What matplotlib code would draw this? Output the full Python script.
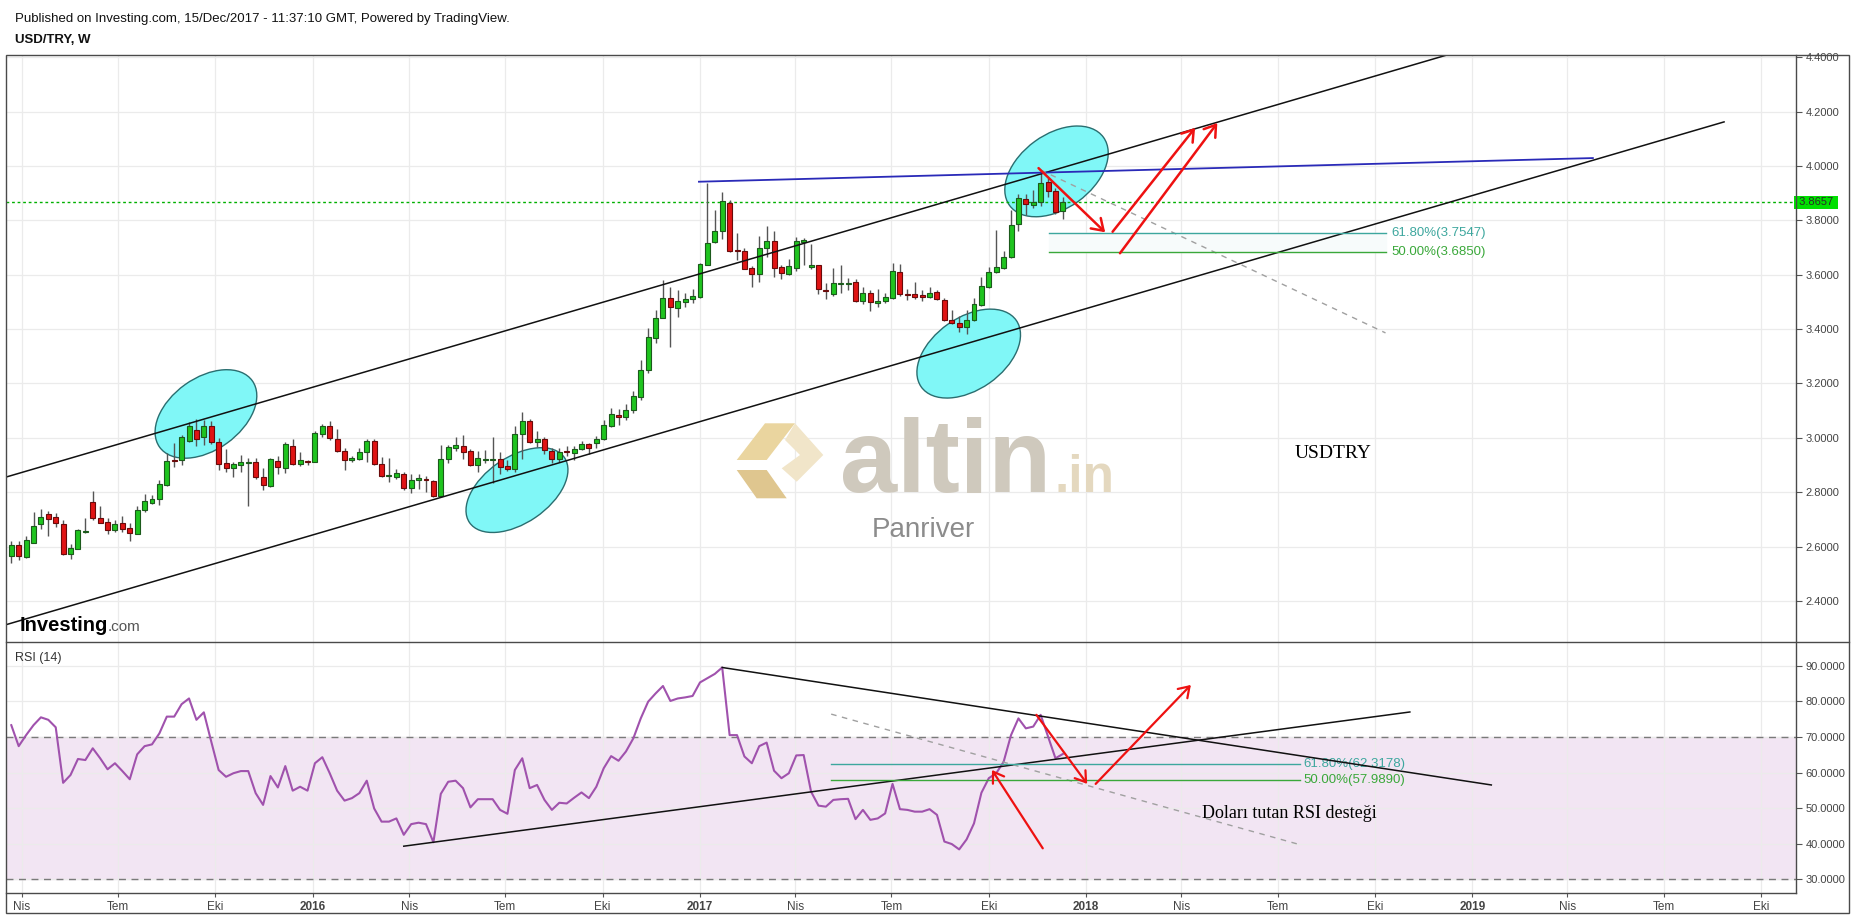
import numpy as np
import pandas as pd
import matplotlib
matplotlib.use('Agg')
import matplotlib.pyplot as plt
import matplotlib.dates as mdates
from matplotlib.ticker import FormatStrFormatter
from matplotlib.patches import Ellipse, Polygon, Rectangle
from matplotlib.lines import Line2D
from matplotlib.transforms import ScaledTranslation

plt.rcParams['font.family'] = ['Liberation Sans', 'DejaVu Sans']

W, H = 1853, 918

# --- weekly USD/TRY candles (first week starts 2015-03-22) ---
first_week = '2015-03-22'
opens = [2.567, 2.606, 2.563, 2.615, 2.682, 2.719, 2.709, 2.683, 2.572, 2.593,
         2.655, 2.764, 2.705, 2.691, 2.660, 2.686, 2.669, 2.647, 2.734, 2.762,
         2.774, 2.828, 2.919, 2.918, 2.990, 3.028, 3.002, 3.043, 2.986, 2.908,
         2.888, 2.899, 2.910, 2.912, 2.858, 2.823, 2.914, 2.890, 2.969, 2.903,
         2.916, 2.913, 3.014, 3.043, 2.995, 2.951, 2.917, 2.924, 2.947, 2.990,
         2.903, 2.861, 2.855, 2.868, 2.817, 2.845, 2.849, 2.840, 2.786, 2.921,
         2.963, 2.971, 2.951, 2.900, 2.921, 2.922, 2.921, 2.895, 2.884, 3.013,
         3.061, 2.986, 2.996, 2.953, 2.924, 2.952, 2.946, 2.960, 2.978, 2.983,
         2.995, 3.044, 3.083, 3.076, 3.101, 3.150, 3.248, 3.368, 3.442, 3.515,
         3.478, 3.500, 3.511, 3.518, 3.637, 3.719, 3.760, 3.865, 3.691, 3.687,
         3.625, 3.602, 3.697, 3.724, 3.627, 3.602, 3.626, 3.724, 3.627, 3.634,
         3.544, 3.528, 3.565, 3.569, 3.572, 3.502, 3.532, 3.497, 3.503, 3.516,
         3.610, 3.531, 3.528, 3.524, 3.519, 3.535, 3.508, 3.433, 3.421, 3.406,
         3.434, 3.490, 3.556, 3.610, 3.624, 3.665, 3.785, 3.877, 3.858, 3.869,
         3.942, 3.909, 3.833]
highs = [2.621, 2.621, 2.639, 2.726, 2.737, 2.732, 2.723, 2.698, 2.610, 2.664,
         2.704, 2.805, 2.751, 2.705, 2.698, 2.713, 2.686, 2.750, 2.794, 2.790,
         2.844, 2.946, 2.983, 3.011, 3.059, 3.068, 3.066, 3.062, 3.000, 2.958,
         2.913, 2.937, 2.925, 2.925, 2.888, 2.927, 2.932, 2.985, 2.996, 2.947,
         2.919, 3.025, 3.051, 3.062, 3.033, 2.964, 2.935, 2.963, 2.997, 2.996,
         2.929, 2.925, 2.885, 2.874, 2.867, 2.866, 2.861, 2.845, 2.974, 2.974,
         3.002, 3.011, 2.959, 2.953, 2.956, 3.003, 2.949, 2.919, 3.044, 3.095,
         3.071, 3.025, 3.003, 2.962, 2.964, 2.970, 2.970, 2.990, 2.983, 3.007,
         3.066, 3.109, 3.105, 3.125, 3.171, 3.287, 3.403, 3.470, 3.581, 3.556,
         3.544, 3.534, 3.548, 3.643, 3.936, 3.838, 3.904, 3.875, 3.755, 3.697,
         3.632, 3.743, 3.779, 3.759, 3.636, 3.657, 3.740, 3.734, 3.713, 3.636,
         3.571, 3.624, 3.636, 3.589, 3.586, 3.554, 3.544, 3.546, 3.534, 3.642,
         3.640, 3.546, 3.573, 3.544, 3.554, 3.544, 3.516, 3.470, 3.448, 3.470,
         3.513, 3.591, 3.630, 3.765, 3.687, 3.838, 3.897, 3.896, 3.912, 3.985,
         3.955, 3.918, 3.887]
lows = [2.539, 2.551, 2.557, 2.612, 2.666, 2.640, 2.671, 2.570, 2.555, 2.590,
        2.649, 2.697, 2.686, 2.647, 2.655, 2.655, 2.622, 2.645, 2.729, 2.757,
        2.755, 2.823, 2.892, 2.902, 2.984, 2.971, 2.974, 2.979, 2.882, 2.873,
        2.855, 2.875, 2.751, 2.849, 2.810, 2.821, 2.866, 2.871, 2.899, 2.898,
        2.899, 2.910, 3.002, 2.992, 2.949, 2.882, 2.910, 2.918, 2.911, 2.900,
        2.858, 2.837, 2.850, 2.808, 2.799, 2.812, 2.802, 2.784, 2.784, 2.907,
        2.953, 2.921, 2.897, 2.875, 2.907, 2.833, 2.866, 2.878, 2.873, 2.921,
        2.980, 2.968, 2.941, 2.908, 2.910, 2.934, 2.920, 2.957, 2.941, 2.961,
        2.991, 3.040, 3.046, 3.065, 3.092, 3.139, 3.240, 3.348, 3.440, 3.336,
        3.446, 3.483, 3.497, 3.513, 3.634, 3.716, 3.733, 3.684, 3.654, 3.620,
        3.554, 3.575, 3.664, 3.593, 3.583, 3.598, 3.615, 3.636, 3.622, 3.529,
        3.511, 3.523, 3.532, 3.544, 3.499, 3.493, 3.468, 3.480, 3.497, 3.510,
        3.523, 3.507, 3.510, 3.505, 3.516, 3.507, 3.430, 3.419, 3.391, 3.381,
        3.431, 3.485, 3.553, 3.608, 3.620, 3.662, 3.761, 3.820, 3.844, 3.853,
        3.887, 3.822, 3.806]
closes = [2.606, 2.567, 2.623, 2.676, 2.709, 2.703, 2.688, 2.572, 2.594, 2.660,
          2.657, 2.707, 2.688, 2.660, 2.683, 2.664, 2.649, 2.734, 2.767, 2.774,
          2.829, 2.914, 2.917, 3.002, 3.043, 2.997, 3.043, 2.984, 2.905, 2.888,
          2.903, 2.910, 2.912, 2.857, 2.826, 2.921, 2.892, 2.976, 2.903, 2.919,
          2.913, 3.017, 3.043, 2.998, 2.951, 2.919, 2.925, 2.947, 2.989, 2.903,
          2.861, 2.863, 2.870, 2.817, 2.845, 2.851, 2.844, 2.786, 2.921, 2.965,
          2.973, 2.949, 2.899, 2.925, 2.923, 2.924, 2.894, 2.887, 3.014, 3.062,
          2.984, 2.995, 2.954, 2.924, 2.948, 2.947, 2.958, 2.978, 2.961, 2.995,
          3.046, 3.087, 3.076, 3.103, 3.153, 3.250, 3.370, 3.440, 3.515, 3.480,
          3.504, 3.511, 3.522, 3.638, 3.717, 3.761, 3.870, 3.689, 3.687, 3.622,
          3.602, 3.697, 3.724, 3.626, 3.605, 3.631, 3.724, 3.726, 3.635, 3.546,
          3.540, 3.569, 3.569, 3.572, 3.502, 3.532, 3.499, 3.504, 3.517, 3.613,
          3.530, 3.528, 3.519, 3.519, 3.532, 3.511, 3.432, 3.421, 3.407, 3.434,
          3.492, 3.557, 3.610, 3.627, 3.665, 3.783, 3.881, 3.860, 3.869, 3.936,
          3.907, 3.832, 3.866]
rsi = [73.3, 67.4, 70.5, 73.3, 75.5, 74.8, 72.7, 57.1, 59.3, 63.8,
       63.5, 66.8, 64.0, 60.9, 62.6, 60.4, 58.1, 65.1, 67.4, 67.9,
       71.0, 75.7, 75.7, 79.2, 80.8, 74.8, 76.9, 68.7, 60.7, 58.8,
       59.8, 60.4, 60.4, 54.2, 50.9, 59.0, 55.8, 61.8, 54.9, 56.0,
       54.9, 62.6, 64.3, 59.8, 54.9, 52.1, 52.8, 54.2, 57.7, 49.9,
       46.2, 46.2, 47.1, 42.5, 45.5, 45.9, 45.5, 40.4, 54.0, 57.4,
       57.7, 55.6, 50.2, 52.5, 52.5, 52.5, 49.5, 48.4, 60.7, 64.0,
       55.6, 56.5, 52.3, 49.5, 51.5, 51.3, 52.9, 54.4, 52.8, 56.0,
       61.2, 64.6, 63.3, 65.9, 69.6, 75.2, 79.9, 82.2, 84.3, 80.1,
       80.8, 81.1, 81.5, 85.3, 86.5, 87.7, 89.5, 70.5, 70.5, 64.5,
       62.6, 67.4, 68.4, 60.5, 58.4, 59.8, 64.8, 64.9, 54.6, 50.7,
       50.4, 52.3, 52.5, 52.6, 46.9, 49.5, 46.7, 47.1, 48.5, 56.8,
       49.7, 49.5, 49.0, 49.0, 49.7, 48.1, 40.6, 39.9, 38.4, 41.2,
       45.7, 54.3, 58.4, 59.8, 63.0, 70.5, 75.2, 72.4, 72.9, 76.2,
       70.1, 64.0, 65.2]
last_price = 3.8657

price_ticks = [2.4, 2.6, 2.8, 3.0, 3.2, 3.4, 3.6, 3.8, 4.0, 4.2, 4.4]
rsi_ticks = [30, 40, 50, 60, 70, 80, 90]
tick_dates = ['2015-04-01', '2015-07-01', '2015-10-01', '2016-01-01',
              '2016-04-01', '2016-07-01', '2016-10-01', '2017-01-01',
              '2017-04-01', '2017-07-01', '2017-10-01', '2018-01-01',
              '2018-04-01', '2018-07-01', '2018-10-01', '2019-01-01',
              '2019-04-01', '2019-07-01', '2019-10-01']
tick_labels = ['Nis', 'Tem', 'Eki', '2016', 'Nis', 'Tem', 'Eki', '2017',
               'Nis', 'Tem', 'Eki', '2018', 'Nis', 'Tem', 'Eki', '2019',
               'Nis', 'Tem', 'Eki']

# drawings (date, value)
upper_channel = [('2015-03-18', 2.857), ('2018-12-08', 4.408)]
lower_channel = [('2015-03-17', 2.313), ('2019-08-27', 4.162)]
blue_line = [('2016-12-31', 3.942), ('2019-04-25', 4.029)]
main_dash = [('2017-11-19', 3.985), ('2018-10-11', 3.386)]
main_fib = [('2017-11-27', '2018-10-11'), (3.7547, 3.6850)]
main_arrows = [(('2017-11-17', 3.992), ('2018-01-19', 3.756)),
               (('2018-01-26', 3.758), ('2018-04-14', 4.140)),
               (('2018-02-02', 3.679), ('2018-05-05', 4.158))]
ellipses = [('2015-09-22', 3.088, 114, 72, 35.6),
            ('2016-07-12', 2.808, 115, 66, 34.4),
            ('2017-12-04', 3.980, 116, 74, 36.0),
            ('2017-09-12', 3.310, 116, 72, 35.0)]
rsi_down_line = [('2017-01-22', 89.5), ('2019-01-19', 56.5)]
rsi_up_line = [('2016-03-27', 39.3), ('2018-11-03', 77.0)]
rsi_dash = [('2017-05-05', 76.4), ('2018-07-20', 39.9)]
rsi_fib = [('2017-05-05', '2018-07-22'), (62.3178, 57.9890)]
rsi_arrows = [(('2017-11-21', 38.7), ('2017-10-04', 60.7)),
              (('2017-11-15', 76.2), ('2018-01-02', 56.8)),
              (('2018-01-10', 56.8), ('2018-04-10', 84.6))]


def d(s):
    return mdates.date2num(pd.Timestamp(s))


def fp(x, y):
    return (x / W, 1 - y / H)


fig = plt.figure(figsize=(W / 100, H / 100), dpi=100)
fig.patch.set_facecolor('white')

l0, r0 = 6, 1796
ax = fig.add_axes([l0 / W, 1 - 642 / H, (r0 - l0) / W, (642 - 55) / H])
ax2 = fig.add_axes([l0 / W, 1 - 893 / H, (r0 - l0) / W, (893 - 642) / H], sharex=ax)

weeks = pd.date_range(first_week, periods=len(closes), freq='7D')
xs = mdates.date2num(weeks)
xmin, xmax = d('2015-03-17'), d('2019-11-03')

grid_c = '#ebebeb'
txt_c = '#444444'
for a in (ax, ax2):
    for s in a.spines.values():
        s.set_visible(False)
    a.set_xticks([d(t) for t in tick_dates])
    a.grid(True, color=grid_c, lw=0.9, zorder=0)
    a.set_axisbelow(True)
    a.yaxis.tick_right()
    a.yaxis.set_major_formatter(FormatStrFormatter('%.4f'))
    a.tick_params(axis='y', direction='out', length=4, width=0.8, color='#555555',
                  labelsize=8, labelcolor=txt_c, pad=3)

# ---------------- main panel ----------------
ax.set_xlim(xmin, xmax)
ax.set_ylim(2.2494, 4.408)
ax.set_yticks(price_ticks)
ax.tick_params(axis='x', length=0, labelbottom=False)

up_c, up_e = '#1fc41f', '#1b5a1b'
dn_c, dn_e = '#e01414', '#6a0a0a'
o = np.array(opens); c = np.array(closes)
hi = np.array(highs); lo = np.array(lows)
is_up = c >= o
ax.vlines(xs, lo, hi, color='#555555', lw=1, zorder=3)
body_low = np.minimum(o, c)
body_h = np.maximum(np.abs(c - o), 0.004)
ax.bar(xs, body_h, bottom=body_low - np.where(np.abs(c - o) < 0.004, 0.002, 0), width=4.7,
       color=np.where(is_up, up_c, dn_c), edgecolor=np.where(is_up, up_e, dn_e),
       linewidth=0.8, zorder=3.5)

for (cx, cy, ew, eh, ang) in ellipses:
    tr = ScaledTranslation(d(cx), cy, ax.transData)
    e = Ellipse((0, 0), ew, eh, angle=ang, transform=tr, facecolor='#80f7f7',
                edgecolor='#2a6e70', lw=1, zorder=1.5)
    ax.add_patch(e)

for line in (upper_channel, lower_channel):
    ax.plot([d(p[0]) for p in line], [p[1] for p in line], color='#111111', lw=1.1, zorder=4)
ax.plot([d(p[0]) for p in blue_line], [p[1] for p in blue_line], color='#2a2ab8', lw=1.3, zorder=4)
ax.plot([d(p[0]) for p in main_dash], [p[1] for p in main_dash], color='#a0a0a0', lw=1,
        ls=(0, (4, 4)), zorder=4)

ax.axhline(last_price, color='#00b000', lw=1, ls=(0, (2, 2)), zorder=2)
ax.text(1.0, last_price, ' 3.8657 ', transform=ax.get_yaxis_transform(), fontsize=8,
        color='#2a2a2a', va='center', ha='left', clip_on=False, zorder=6,
        bbox=dict(facecolor='#00e000', edgecolor='none', pad=1.2))

fx0, fx1 = d(main_fib[0][0]), d(main_fib[0][1])
f1, f2 = main_fib[1]
ax.fill_between([fx0, fx1], f2, f1, color='#f7fbfb', zorder=1)
ax.plot([fx0, fx1], [f1, f1], color='#3da79e', lw=1, zorder=4)
ax.plot([fx0, fx1], [f2, f2], color='#3aa83a', lw=1, zorder=4)
ax.text(fx1 + 6, f1, '61.80%(3.7547)', color='#3da79e', fontsize=9.5, va='center')
ax.text(fx1 + 6, f2, '50.00%(3.6850)', color='#3aa83a', fontsize=9.5, va='center')

for (s, e) in main_arrows:
    ax.annotate('', xy=(d(e[0]), e[1]), xytext=(d(s[0]), s[1]),
                arrowprops=dict(arrowstyle='->,head_length=0.6,head_width=0.4', color='#ee1111',
                                lw=1.8, mutation_scale=13, shrinkA=0, shrinkB=0), zorder=5)

ax.text(*fp(1295, 454), 'USDTRY', transform=fig.transFigure, fontsize=14,
        family=['Liberation Serif', 'DejaVu Serif'], va='center', ha='left', zorder=6)

# watermark
ax.text(*fp(840, 492), 'altin', transform=fig.transFigure, fontsize=74, fontweight='bold',
        color='#cfc9bd', va='baseline', ha='left', zorder=0.6)
ax.text(*fp(1055, 492), '.in', transform=fig.transFigure, fontsize=37, fontweight='bold',
        color='#e4d8bf', va='baseline', ha='left', zorder=0.6)
ax.text(*fp(872, 537), 'Panriver', transform=fig.transFigure, fontsize=20,
        color='#8c8c8c', va='baseline', ha='left', zorder=0.6)
logo = [([(736.7, 460), (765, 423.3), (795, 423.3), (766.7, 460)], '#ead59f'),
        ([(736.7, 470), (766.7, 470), (786.7, 498.3), (756.7, 498.3)], '#dfc68f'),
        ([(795, 423.3), (823.3, 455), (796.7, 481.7), (781.7, 468.3), (800, 455), (785, 440)], '#f1e5c9')]
for pts, col in logo:
    ax.add_patch(Polygon([fp(x, y) for x, y in pts], closed=True, transform=fig.transFigure,
                         facecolor=col, edgecolor='none', zorder=0.6))

ax.text(*fp(20, 631), 'Investing', transform=fig.transFigure, fontsize=14.5,
        fontweight='bold', color='black', va='baseline', ha='left', zorder=6)
ax.text(*fp(108, 631), '.com', transform=fig.transFigure, fontsize=11,
        color='#555555', va='baseline', ha='left', zorder=6)

# ---------------- RSI panel ----------------
ax2.set_ylim(26.15, 96.66)
ax2.set_yticks(rsi_ticks)
ax2.axhspan(30, 70, color='#f2e5f3', zorder=0.5)
for lvl in (30, 70):
    ax2.axhline(lvl, color='#7a7a7a', lw=1, ls=(0, (5, 4)), zorder=1)
ax2.plot(xs, rsi, color='#a052ad', lw=1.5, zorder=3)

ax2.plot([d(p[0]) for p in rsi_down_line], [p[1] for p in rsi_down_line], color='#111111', lw=1.1, zorder=4)
ax2.plot([d(p[0]) for p in rsi_up_line], [p[1] for p in rsi_up_line], color='#111111', lw=1.1, zorder=4)
ax2.plot([d(p[0]) for p in rsi_dash], [p[1] for p in rsi_dash], color='#a0a0a0', lw=1,
         ls=(0, (4, 4)), zorder=4)

gx0, gx1 = d(rsi_fib[0][0]), d(rsi_fib[0][1])
g1, g2 = rsi_fib[1]
ax2.plot([gx0, gx1], [g1, g1], color='#3da79e', lw=1, zorder=4)
ax2.plot([gx0, gx1], [g2, g2], color='#3aa83a', lw=1, zorder=4)
ax2.text(gx1 + 3, g1, '61.80%(62.3178)', color='#3da79e', fontsize=9.5, va='center')
ax2.text(gx1 + 3, g2, '50.00%(57.9890)', color='#3aa83a', fontsize=9.5, va='center')

for (s, e) in rsi_arrows:
    ax2.annotate('', xy=(d(e[0]), e[1]), xytext=(d(s[0]), s[1]),
                 arrowprops=dict(arrowstyle='->,head_length=0.6,head_width=0.4', color='#ee1111',
                                 lw=1.6, mutation_scale=12, shrinkA=0, shrinkB=0), zorder=5)

ax2.text(*fp(1202, 813), 'Doları tutan RSI desteği', transform=fig.transFigure, fontsize=13,
         family=['Liberation Serif', 'DejaVu Serif'], va='center', ha='left', zorder=6)
ax2.text(*fp(15, 658), 'RSI (14)', transform=fig.transFigure, fontsize=9,
         color='#333333', va='center', ha='left', zorder=6)

ax2.set_xticklabels(tick_labels)
ax2.tick_params(axis='x', direction='out', length=3, color='#555555', labelsize=8.5,
                labelcolor=txt_c, pad=3)
for t in ax2.get_xticklabels():
    t.set_family(['Liberation Sans Narrow', 'Liberation Sans', 'DejaVu Sans'])
    if t.get_text().isdigit():
        t.set_fontweight('bold')

# ---------------- frame and header ----------------
frame_c = '#4a4a4a'
fig.add_artist(Rectangle(fp(6, 913), (1849 - 6) / W, (913 - 55) / H, transform=fig.transFigure,
                         fill=False, edgecolor=frame_c, lw=1))
for (x1, y1, x2, y2) in [(1796, 55, 1796, 893), (6, 642, 1849, 642), (6, 893, 1796, 893)]:
    p1, p2 = fp(x1, y1), fp(x2, y2)
    fig.add_artist(Line2D([p1[0], p2[0]], [p1[1], p2[1]], transform=fig.transFigure,
                          color=frame_c, lw=1))

fig.text(*fp(15, 19), 'Published on Investing.com, 15/Dec/2017 - 11:37:10 GMT, Powered by TradingView.',
         fontsize=9.5, color='#111111', va='center', ha='left')
fig.text(*fp(15, 40), 'USD/TRY, W', fontsize=9.5, fontweight='bold', color='#111111',
         va='center', ha='left')

fig.savefig('out.png', dpi=100, facecolor='white')
